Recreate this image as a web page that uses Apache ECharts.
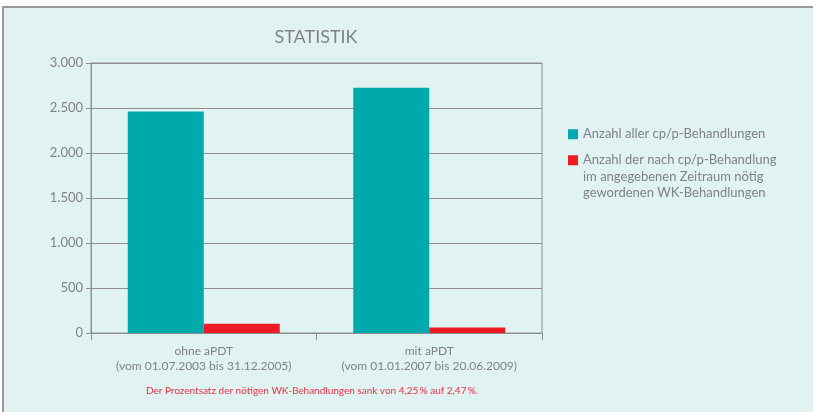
<!DOCTYPE html>
<html><head><meta charset="utf-8">
<script src="https://cdn.jsdelivr.net/npm/echarts@6/dist/echarts.min.js"></script>
<style>
html,body{margin:0;padding:0;background:#fff;width:813px;height:412px;overflow:hidden}
#frame{position:absolute;left:2px;top:6px;width:811px;height:406px;background:#e1f2f2;border-top:2px solid #9a9a9a;border-left:2px solid #9a9a9a;box-sizing:border-box}
#c{position:absolute;left:0;top:0;width:813px;height:412px}
</style></head>
<body><div id="frame"></div><div id="c"></div>
<script>
const categories = ['ohne aPDT\n(vom 01.07.2003 bis 31.12.2005)', 'mit aPDT\n(vom 01.01.2007 bis 20.06.2009)'];
const seriesNames = ['Anzahl aller cp/p-Behandlungen', 'Anzahl der nach cp/p-Behandlung\nim angegebenen Zeitraum nötig\ngewordenen WK-Behandlungen'];
const allTreatments = [2460, 2725];
const wkTreatments = [104, 62];
const yTicks = {min: 0, max: 3000, interval: 500};
const titleText = 'STATISTIK';
const footnote = 'Der Prozentsatz der nötigen WK-Behandlungen sank von 4,25\u2009% auf 2,47\u2009%.';

const FONT = 'Lato';
const GRAY = '#808285';
const LINE = '#8e8e8e';
const chart = echarts.init(document.getElementById('c'), null, {renderer: 'canvas'});
const fmt = v => String(v).replace(/\B(?=(\d{3})+(?!\d))/g, '.');
chart.setOption({
  backgroundColor: 'transparent',
  animation: false,
  textStyle: {fontFamily: FONT},
  title: [
    {text: titleText, left: 316, top: 28, padding: 0, textAlign: 'center',
     textStyle: {fontFamily: FONT, fontSize: 18, fontWeight: 'normal', color: GRAY}},
    {text: footnote, left: 312, top: 386, padding: 0, textAlign: 'center',
     textStyle: {fontFamily: FONT, fontSize: 10, fontWeight: 'normal', color: '#e8323f'}}
  ],
  legend: [
    {data: [seriesNames[0]], orient: 'vertical', left: 568, top: 126, padding: 0,
     itemWidth: 10, itemHeight: 10, icon: 'rect', selectedMode: false,
     textStyle: {fontFamily: FONT, fontSize: 13, color: GRAY, lineHeight: 16.5}},
    {data: [seriesNames[1]], orient: 'vertical', left: 568, top: 119, padding: 0,
     itemWidth: 10, itemHeight: 10, icon: 'rect', selectedMode: false,
     formatter: n => '\n\n' + n,
     textStyle: {fontFamily: FONT, fontSize: 13, color: GRAY, lineHeight: 16.5}}
  ],
  grid: {left: 91, right: 271, top: 63, bottom: 79, show: true, borderColor: LINE, borderWidth: 1, backgroundColor: 'transparent'},
  xAxis: {
    type: 'category', data: categories,
    axisLine: {lineStyle: {color: LINE, width: 1}},
    axisTick: {show: true, length: 7, lineStyle: {color: LINE}},
    axisLabel: {interval: 0, fontFamily: FONT, fontSize: 12, color: GRAY, lineHeight: 15, margin: 11}
  },
  yAxis: {
    type: 'value', min: yTicks.min, max: yTicks.max, interval: yTicks.interval,
    axisLine: {show: true, lineStyle: {color: LINE, width: 1}},
    axisTick: {show: true, length: 5, lineStyle: {color: LINE}},
    splitLine: {show: true, lineStyle: {color: LINE, width: 1}},
    axisLabel: {fontFamily: FONT, fontSize: 13, color: GRAY, margin: 8, formatter: fmt}
  },
  series: [
    {name: seriesNames[0], type: 'bar', data: allTreatments, barWidth: 76, barGap: '0%', itemStyle: {color: '#00a9ac'}},
    {name: seriesNames[1], type: 'bar', data: wkTreatments, barWidth: 76, barGap: '0%', itemStyle: {color: '#ed1c24'}}
  ]
});
</script></body></html>
